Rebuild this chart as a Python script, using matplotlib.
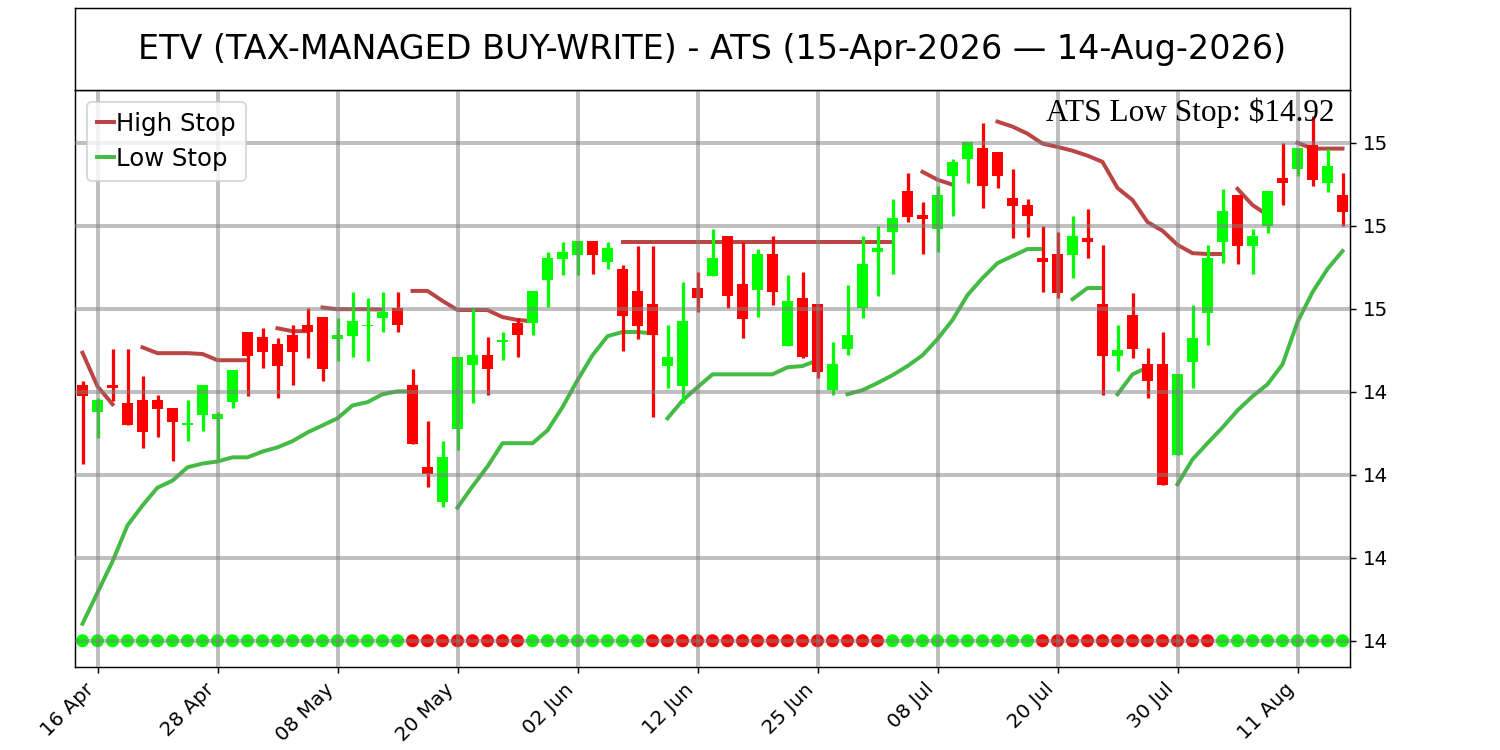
import numpy as np
import pandas as pd
import matplotlib
matplotlib.use("Agg")
import matplotlib.pyplot as plt
from matplotlib.ticker import FormatStrFormatter

# Trading days (NYSE holidays removed)
holidays = ["2026-05-25", "2026-06-19", "2026-07-03"]
dates = pd.bdate_range("2026-04-15", "2026-08-14", freq="C", holidays=holidays)

opens = [14.417, 14.351, 14.417, 14.372, 14.379, 14.379, 14.362, 14.320, 14.344, 14.334,
         14.375, 14.545, 14.531, 14.514, 14.538, 14.562, 14.580, 14.528, 14.535, 14.559,
         14.577, 14.601, 14.417, 14.218, 14.134, 14.311, 14.464, 14.488, 14.520, 14.565,
         14.566, 14.669, 14.720, 14.730, 14.763, 14.712, 14.697, 14.643, 14.611, 14.462,
         14.414, 14.649, 14.680, 14.776, 14.659, 14.645, 14.731, 14.511, 14.627, 14.611,
         14.404, 14.504, 14.601, 14.736, 14.784, 14.884, 14.826, 14.792, 14.919, 14.961,
         14.987, 14.978, 14.866, 14.849, 14.722, 14.731, 14.730, 14.771, 14.611, 14.486,
         14.586, 14.466, 14.466, 14.248, 14.472, 14.591, 14.760, 14.873, 14.752, 14.800,
         14.915, 14.937, 14.995, 14.903, 14.873]
highs = [14.425, 14.384, 14.504, 14.504, 14.437, 14.392, 14.362, 14.379, 14.417, 14.352,
         14.452, 14.545, 14.553, 14.529, 14.561, 14.602, 14.580, 14.577, 14.640, 14.625,
         14.640, 14.640, 14.456, 14.329, 14.281, 14.484, 14.601, 14.531, 14.544, 14.577,
         14.643, 14.736, 14.760, 14.763, 14.763, 14.760, 14.705, 14.752, 14.752, 14.561,
         14.664, 14.689, 14.792, 14.776, 14.760, 14.743, 14.776, 14.681, 14.688, 14.611,
         14.519, 14.657, 14.776, 14.800, 14.865, 14.928, 14.857, 14.895, 14.961, 15.001,
         15.048, 14.978, 14.937, 14.864, 14.800, 14.784, 14.824, 14.841, 14.754, 14.561,
         14.639, 14.506, 14.544, 14.442, 14.609, 14.754, 14.888, 14.873, 14.792, 14.884,
         14.999, 14.987, 15.064, 14.985, 14.927]
lows = [14.227, 14.288, 14.378, 14.320, 14.264, 14.291, 14.233, 14.281, 14.305, 14.235,
        14.361, 14.390, 14.457, 14.385, 14.417, 14.482, 14.426, 14.474, 14.483, 14.474,
        14.544, 14.544, 14.273, 14.170, 14.122, 14.259, 14.372, 14.393, 14.476, 14.483,
        14.536, 14.605, 14.681, 14.681, 14.683, 14.697, 14.499, 14.526, 14.338, 14.410,
        14.372, 14.593, 14.680, 14.602, 14.530, 14.581, 14.609, 14.511, 14.482, 14.433,
        14.393, 14.488, 14.578, 14.631, 14.683, 14.810, 14.731, 14.738, 14.824, 14.904,
        14.842, 14.891, 14.770, 14.774, 14.641, 14.627, 14.673, 14.722, 14.393, 14.450,
        14.482, 14.385, 14.176, 14.248, 14.409, 14.512, 14.710, 14.707, 14.683, 14.782,
        14.849, 14.921, 14.895, 14.882, 14.800]
closes = [14.390, 14.379, 14.408, 14.321, 14.303, 14.359, 14.327, 14.325, 14.417, 14.347,
          14.452, 14.486, 14.496, 14.462, 14.496, 14.543, 14.455, 14.538, 14.570, 14.562,
          14.593, 14.561, 14.273, 14.203, 14.243, 14.484, 14.488, 14.456, 14.524, 14.536,
          14.643, 14.722, 14.738, 14.763, 14.730, 14.746, 14.583, 14.559, 14.536, 14.484,
          14.570, 14.625, 14.722, 14.631, 14.575, 14.731, 14.640, 14.619, 14.484, 14.448,
          14.466, 14.538, 14.707, 14.746, 14.818, 14.822, 14.817, 14.873, 14.953, 15.001,
          14.895, 14.919, 14.848, 14.824, 14.712, 14.639, 14.776, 14.760, 14.486, 14.500,
          14.504, 14.425, 14.176, 14.442, 14.530, 14.722, 14.836, 14.752, 14.776, 14.884,
          14.903, 14.987, 14.911, 14.945, 14.833]

# Stop segments: (start index, values)
high_stop_segments = [
    (0, [14.494, 14.413, 14.370]),
    (4, [14.507, 14.493, 14.493, 14.493, 14.491, 14.476, 14.476, 14.476]),
    (13, [14.553, 14.546, 14.546]),
    (16, [14.603, 14.599, 14.599, 14.599, 14.598]),
    (22, [14.643, 14.643, 14.619, 14.597, 14.597, 14.597, 14.580, 14.573, 14.570]),
    (36, [14.762, 14.762, 14.762, 14.762, 14.762, 14.762, 14.762, 14.762, 14.762, 14.762,
          14.762, 14.762, 14.762, 14.762, 14.762, 14.762, 14.762, 14.762, 14.762]),
    (56, [14.930, 14.911, 14.899]),
    (61, [15.051, 15.039, 15.022, 14.998, 14.990, 14.981, 14.969, 14.954, 14.891, 14.862,
          14.809, 14.788, 14.754, 14.734, 14.732, 14.732]),
    (77, [14.889, 14.850, 14.826]),
    (81, [15.000, 14.986, 14.986, 14.986]),
]
low_stop_segments = [
    (0, [13.841, 13.916, 13.991, 14.078, 14.126, 14.169, 14.186, 14.218, 14.227, 14.232,
         14.242, 14.242, 14.256, 14.266, 14.281, 14.302, 14.319, 14.336, 14.367, 14.375,
         14.394, 14.401, 14.401]),
    (25, [14.121, 14.172, 14.220, 14.276, 14.276, 14.276, 14.307, 14.363, 14.428, 14.488,
          14.534, 14.544, 14.544, 14.541]),
    (39, [14.336, 14.379, 14.411, 14.442, 14.442, 14.442, 14.442, 14.442, 14.459, 14.462,
          14.476]),
    (51, [14.394, 14.404, 14.421, 14.440, 14.462, 14.488, 14.527, 14.573, 14.633, 14.674,
          14.710, 14.727, 14.744, 14.744]),
    (66, [14.623, 14.650, 14.650]),
    (69, [14.394, 14.442, 14.459]),
    (73, [14.177, 14.237, 14.276, 14.314, 14.355, 14.389, 14.418, 14.466, 14.568, 14.640,
          14.696, 14.739]),
]

# Trend state per day (G = up, R = down)
trend = ("GGGGGGGGGGGGGGGGGGGGGG" + "RRRRRRRR" + "GGGGGGGG" + "RRRRRRRRRRRRRRRR"
         + "GGGGGGGGGG" + "RRRRRRRRRRRR" + "GGGGGGGGG")
trend_level = 13.8
ats_low_stop = 14.92

title = "ETV (TAX-MANAGED BUY-WRITE) - ATS (15-Apr-2026 \u2014 14-Aug-2026)"

x = np.arange(len(dates))
o = np.array(opens)
c = np.array(closes)
up = c >= o
candle_colors = np.where(up, "#00ff00", "#ff0000")

fig = plt.figure(figsize=(1500 / 130, 750 / 130), dpi=130)
ax = fig.add_axes([0.05, 0.1107, 0.85, 0.7693])
tax = fig.add_axes([0.05, 0.88, 0.85, 0.1093])

# Title box
tax.set_xticks([])
tax.set_yticks([])
tax.text(0.5, 0.5, title, ha="center", va="center", fontsize=18.5, transform=tax.transAxes)

# Stop lines
for k, (start, vals) in enumerate(high_stop_segments):
    xs = np.arange(start, start + len(vals))
    ax.plot(xs, vals, color="#bb4444", linewidth=2.2, zorder=1,
            label="High Stop" if k == 0 else None)
for k, (start, vals) in enumerate(low_stop_segments):
    xs = np.arange(start, start + len(vals))
    ax.plot(xs, vals, color="#44bb44", linewidth=2.2, zorder=1,
            label="Low Stop" if k == 0 else None)

# Candles
ax.vlines(x, lows, highs, colors=candle_colors, linewidth=1.8, zorder=1.5)
ax.bar(x, c - o, bottom=o, width=0.7, color=candle_colors, zorder=1.6)

# Trend dots
dot_colors = ["#00ff00" if t == "G" else "#ff0000" for t in trend]
ax.scatter(x, [trend_level] * len(x), c=dot_colors, s=52, linewidths=0, zorder=1.7)

ax.text(0.988, 0.947, f"ATS Low Stop: ${ats_low_stop:.2f}", transform=ax.transAxes,
        ha="right", va="baseline", fontsize=17.3, family=["Liberation Serif", "DejaVu Serif"])

ax.set_xlim(-0.5, len(x) - 0.5)
tick_pos = list(range(1, len(x), 8))
ax.set_xticks(tick_pos)
ax.set_xticklabels([dates[i].strftime("%d %b") for i in tick_pos], rotation=45, ha="right")
ax.yaxis.tick_right()
ax.yaxis.set_major_formatter(FormatStrFormatter("%.0f"))
ax.tick_params(labelsize=11)

ax.set_axisbelow(False)
ax.grid(True, color="gray", alpha=0.5, linewidth=2.2)

ax.legend(loc="upper left", fontsize=13.5, handlelength=0.7, handletextpad=0.1,
          labelspacing=0.45, borderpad=0.4)

fig.savefig("out.png", dpi=130)
